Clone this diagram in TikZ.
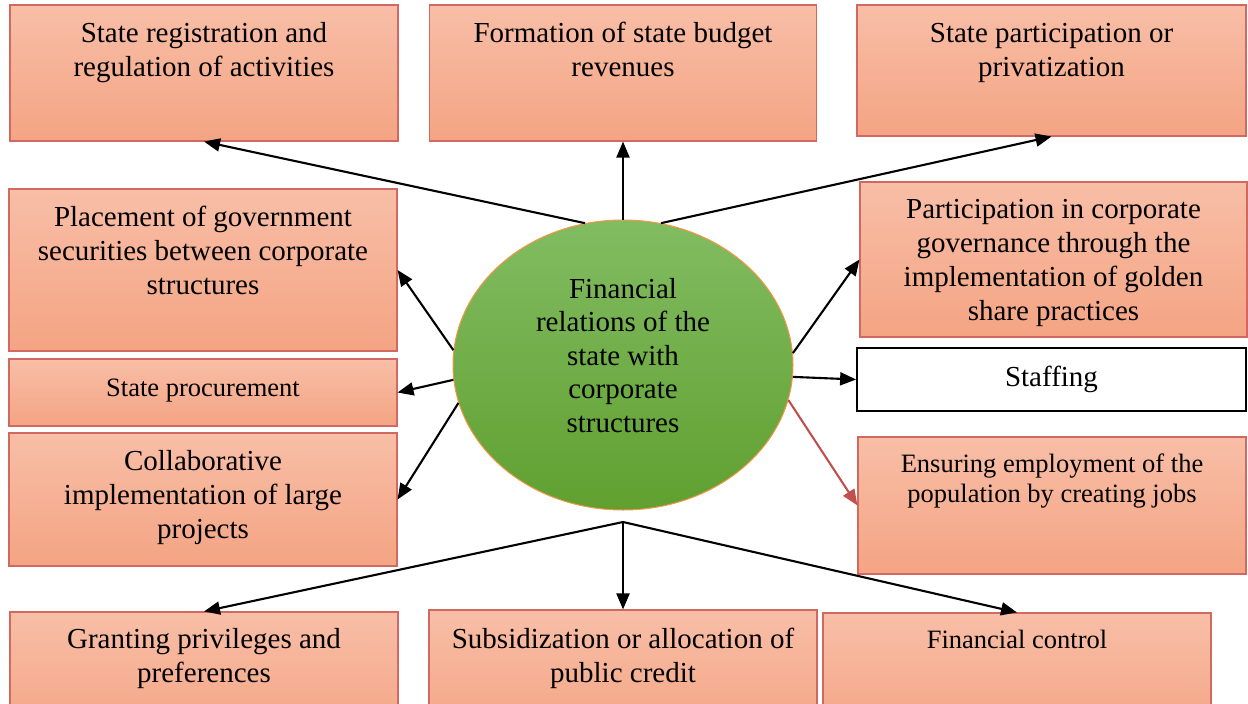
\documentclass[tikz,border=0pt]{standalone}
\usepackage{fontspec}
\setmainfont{Liberation Serif}
\usetikzlibrary{arrows.meta,shapes.geometric}
\definecolor{boxtop}{RGB}{248,190,167}
\definecolor{boxbot}{RGB}{244,164,131}
\definecolor{boxline}{RGB}{210,104,98}
\definecolor{elltop}{RGB}{130,188,98}
\definecolor{ellbot}{RGB}{96,160,48}
\definecolor{ellline}{RGB}{247,150,70}
\definecolor{redarrow}{RGB}{192,80,77}
\begin{document}
\begin{tikzpicture}[x=1pt,y=-1pt,
  box/.style={draw=boxline, line width=1.1pt, top color=boxtop, bottom color=boxbot, inner sep=0pt},
  plainbox/.style={draw=black, line width=1.8pt, fill=white, inner sep=0pt},
  hub/.style={ellipse, draw=ellline, line width=1pt, top color=elltop, bottom color=ellbot,
    minimum width=340pt, minimum height=290pt, inner sep=0pt},
  big/.style={font=\fontsize{29}{34}\selectfont, align=center, inner sep=0pt, anchor=north},
  small/.style={font=\fontsize{26.5}{30}\selectfont, align=center, inner sep=0pt, anchor=north},
  link/.style={line width=2.1pt, -{Triangle[length=16pt,width=13pt]}},
]
\useasboundingbox (0,0) rectangle (1248,704);
\clip (0,0) rectangle (1248,704);

% central ellipse
\node[hub] (ell) at (623,365) {};
\node[font=\fontsize{29}{33.5}\selectfont, align=center, inner sep=0pt, anchor=north] (elltxt) at (623,274.5)
  {\strut Financial\\relations of the\\state with\\corporate\\structures};

% top row
\node[box, minimum width=388pt, minimum height=136pt] (reg) at (204,73) {};
\node[big] (regtxt) at (204,18) {\strut State registration and\\regulation of activities};
\node[box, minimum width=387pt, minimum height=136pt] (bud) at (623,73) {};
\node[big] (budtxt) at (623,18) {\strut Formation of state budget\\revenues};
\node[box, minimum width=389pt, minimum height=131pt] (part) at (1051.5,70.5) {};
\node[big] (parttxt) at (1051.5,18) {\strut State participation or\\privatization};

% left column
\node[box, minimum width=388pt, minimum height=162pt] (plc) at (203,270) {};
\node[big] (plctxt) at (203,202) {\strut Placement of government\\securities between corporate\\structures};
\node[box, minimum width=388pt, minimum height=67pt] (proc) at (203,392.5) {};
\node[small] (proctxt) at (203,375) {\strut State procurement};
\node[box, minimum width=388pt, minimum height=133pt] (collab) at (203,499.5) {};
\node[big] (collabtxt) at (203,446) {\strut Collaborative\\implementation of large\\projects};

% right column
\node[box, minimum width=387pt, minimum height=155pt] (gov) at (1053.5,259.5) {};
\node[big] (govtxt) at (1053.5,194) {\strut Participation in corporate\\governance through the\\implementation of golden\\share practices};
\node[plainbox, minimum width=389pt, minimum height=63pt] (staff) at (1051.5,379.5) {};
\node[big] (stafftxt) at (1051.5,362) {\strut Staffing};
\node[box, minimum width=388pt, minimum height=137pt] (emp) at (1052,505.5) {};
\node[small] (emptxt) at (1052,451) {\strut Ensuring employment of the\\population by creating jobs};

% bottom row
\node[box, minimum width=388pt, minimum height=128pt] (grant) at (204,676) {};
\node[big] (granttxt) at (204,624) {\strut Granting privileges and\\preferences};
\node[box, minimum width=388pt, minimum height=130pt] (sub) at (623,675) {};
\node[big] (subtxt) at (623,624) {\strut Subsidization or allocation of\\public credit};
\node[box, minimum width=388pt, minimum height=127pt] (ctrl) at (1017,676.5) {};
\node[small] (ctrltxt) at (1017,627) {\strut Financial control};

% connectors from the ellipse
\draw[link] (ell.105) -- (reg.south);
\draw[link] (ell.90) -- (bud.south);
\draw[link] (ell.75) -- (part.south);
\draw[link] (ell.175) -- (plc.east);
\draw[link] (ell.185) -- (proc.east);
\draw[link] (ell.193) -- (collab.east);
\draw[link] (ell.4) -- (gov.west);
\draw[link] (ell.356) -- (staff.west);
\draw[link, draw=redarrow, fill=redarrow] (ell.348) -- (emp.west);

% fork below the ellipse
\coordinate (fork) at (623,522);
\draw[link] (fork) -- (grant.north);
\draw[link] (fork) -- (sub.north);
\draw[link] (fork) -- (ctrl.north);
\end{tikzpicture}
\end{document}
